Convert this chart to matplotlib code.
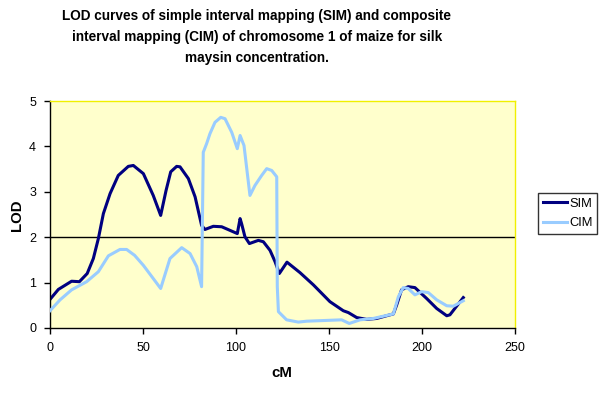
import matplotlib
matplotlib.use("Agg")
import matplotlib.pyplot as plt

plt.rcParams["font.family"] = ["Liberation Sans", "DejaVu Sans"]

# posizione (cM) e valori LOD
sim_cm = [0, 4.5, 11.6, 15.8, 20, 23.3, 26, 28.7, 32.3, 36.7, 42.1, 44.8, 50.2, 55.5,
          59.5, 62.4, 64.9, 68.1, 69.9, 74.4, 78, 81.5, 83.3, 87.8, 92.3, 96.8, 100.7,
          102.2, 103, 104.8, 107.2, 112, 114.7, 118.3, 121, 123.3, 127.4, 134.4, 141.6,
          150.5, 157.7, 160.4, 164.9, 170.3, 175.6, 184.6, 186.4, 189, 192.6, 196.2,
          202.5, 207.9, 213.3, 215, 222.2]
sim_lod = [0.63, 0.85, 1.03, 1.02, 1.2, 1.53, 1.97, 2.52, 2.96, 3.36, 3.56, 3.58, 3.40,
           2.92, 2.48, 3.03, 3.44, 3.56, 3.55, 3.29, 2.89, 2.26, 2.17, 2.24, 2.23, 2.15,
           2.08, 2.41, 2.3, 2.01, 1.86, 1.93, 1.90, 1.71, 1.46, 1.20, 1.45, 1.22, 0.95,
           0.58, 0.38, 0.34, 0.23, 0.19, 0.21, 0.31, 0.51, 0.84, 0.91, 0.89, 0.65, 0.43,
           0.27, 0.29, 0.67]

cim_cm = [0, 5.4, 11.6, 19.7, 26, 31.4, 37.6, 41.2, 45.5, 50.2, 55.5, 59.5, 64.5, 70.8,
          75.3, 78.9, 81.5, 82.4, 84.2, 86, 88.7, 91.8, 94.1, 97.7, 100.7, 102.2, 104.3,
          107.5, 110.2, 113.8, 116.5, 119.2, 121.9, 122.2, 122.8, 127.2, 133.5, 138,
          156.8, 160.9, 166.7, 173.8, 184.6, 187.3, 189.9, 192.6, 196.2, 199.8, 203.4,
          207.9, 213.3, 216.8, 222.2]
cim_lod = [0.38, 0.62, 0.84, 1.02, 1.24, 1.59, 1.73, 1.73, 1.6, 1.38, 1.09, 0.87, 1.53,
           1.77, 1.64, 1.35, 0.91, 3.87, 4.06, 4.28, 4.53, 4.64, 4.61, 4.31, 3.95, 4.24,
           4.02, 2.92, 3.14, 3.36, 3.51, 3.47, 3.33, 0.91, 0.36, 0.18, 0.13, 0.15, 0.18,
           0.10, 0.18, 0.21, 0.31, 0.69, 0.89, 0.87, 0.73, 0.80, 0.78, 0.62, 0.49, 0.48,
           0.60]

soglia = 2

W, H = 603, 393
fig = plt.figure(figsize=(W / 100, H / 100), dpi=100)
ax = fig.add_axes([50 / W, 1 - 328 / H, 465 / W, 227 / H])
ax.set_facecolor("#FFFFCC")

ax.axhline(soglia, color="black", lw=1, zorder=1)
ax.plot(sim_cm, sim_lod, color="#000080", lw=2.2, solid_joinstyle="round", label="SIM", zorder=2)
ax.plot(cim_cm, cim_lod, color="#99CCFF", lw=2.2, solid_joinstyle="round", label="CIM", zorder=3)

ax.set_xlim(0, 250)
ax.set_ylim(0, 5)
ax.set_xticks(range(0, 251, 50))
ax.set_yticks(range(0, 6))
ax.tick_params(labelsize=9, length=4, width=1, direction="out", pad=6)

for s in ["left", "bottom"]:
    ax.spines[s].set_color("black")
    ax.spines[s].set_linewidth(1)
for s in ["top", "right"]:
    ax.spines[s].set_color("#F0F000")
    ax.spines[s].set_linewidth(1)

fig.text(282 / W, 1 - 373 / H, "cM", ha="center", va="center", fontsize=10.8, fontweight="bold")
fig.text(17 / W, 1 - 215 / H, "LOD", ha="center", va="center", rotation=90, fontsize=10.8,
         fontweight="bold")

fig.text(257 / W, 1 - 37 / H,
         "LOD curves of simple interval mapping (SIM) and composite\n"
         "interval mapping (CIM) of chromosome 1 of maize for silk\n"
         "maysin concentration.",
         ha="center", va="center", fontsize=9.8, fontweight="bold", linespacing=1.6)

leg = fig.legend(loc="upper left", bbox_to_anchor=(538 / W, 1 - 193 / H), fontsize=9.3,
                 frameon=True, fancybox=False, handlelength=1.9, handletextpad=0.15,
                 borderpad=0.35, labelspacing=0.6, borderaxespad=0)
leg.get_frame().set_edgecolor("black")
leg.get_frame().set_linewidth(1)

fig.savefig("out.png", dpi=100)
